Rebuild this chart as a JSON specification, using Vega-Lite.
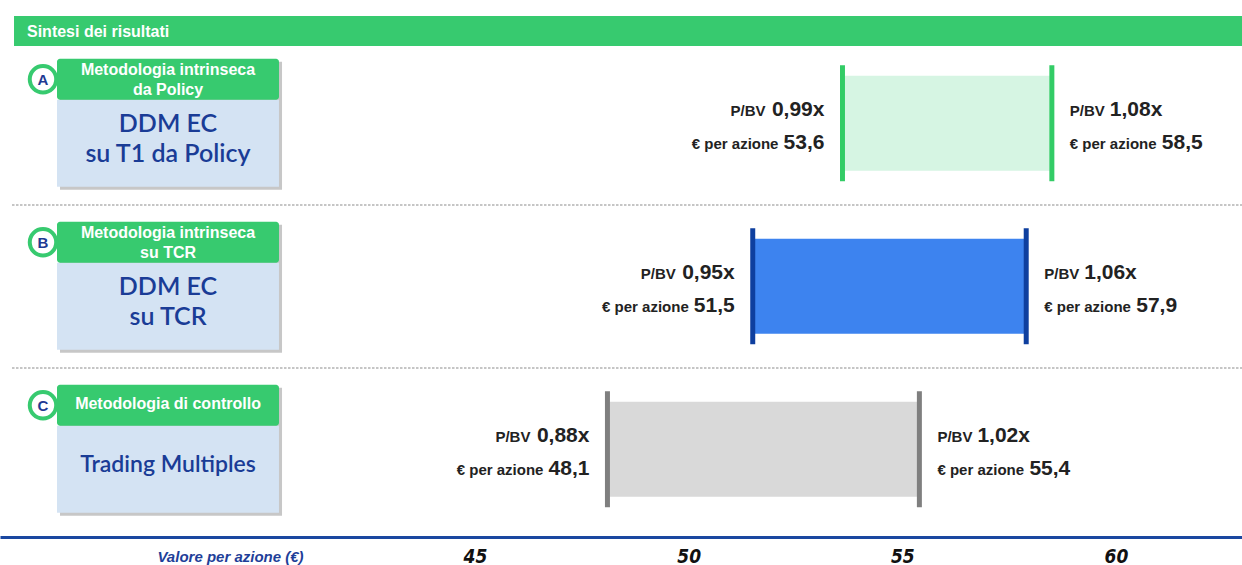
{
  "$schema": "https://vega.github.io/schema/vega-lite/v6.json",
  "width": 1242,
  "height": 565,
  "autosize": {"type": "none"},
  "padding": 0,
  "background": "white",
  "config": {"view": {"stroke": null}, "font": "Liberation Sans"},
  "data": {
    "values": [
      {"row": "A", "lo": 53.6, "hi": 58.5, "pbv_lo": 0.99, "pbv_hi": 1.08, "method": "Metodologia intrinseca\nda Policy", "model": "DDM EC\nsu T1 da Policy"},
      {"row": "B", "lo": 51.5, "hi": 57.9, "pbv_lo": 0.95, "pbv_hi": 1.06, "method": "Metodologia intrinseca\nsu TCR", "model": "DDM EC\nsu TCR"},
      {"row": "C", "lo": 48.1, "hi": 55.4, "pbv_lo": 0.88, "pbv_hi": 1.02, "method": "Metodologia di controllo", "model": "Trading Multiples"}
    ]
  },
  "transform": [
    {"calculate": "replace(format(datum.lo,'.1f'),'.',',')", "as": "lo_s"},
    {"calculate": "replace(format(datum.hi,'.1f'),'.',',')", "as": "hi_s"},
    {"calculate": "replace(format(datum.pbv_lo,'.2f'),'.',',') + 'x'", "as": "pbv_lo_s"},
    {"calculate": "replace(format(datum.pbv_hi,'.2f'),'.',',') + 'x'", "as": "pbv_hi_s"}
  ],
  "resolve": {"scale": {"color": "independent"}},
  "layer": [
    {
      "mark": {"type": "bar"},
      "encoding": {
        "x": {"field": "lo", "type": "quantitative", "scale": {"domain": [33.884, 62.95], "nice": false, "zero": false},
          "axis": {"values": [45, 50, 55, 60], "ticks": false, "grid": false, "domain": true, "domainColor": "#1a47a0", "domainWidth": 3, "offset": -28,
            "labelPadding": 10, "labelBaseline": "top", "labelFont": "Liberation Sans Narrow, DejaVu Sans Condensed, sans-serif", "labelFontSize": 19,
            "labelFontWeight": "bold", "labelFontStyle": "italic", "labelColor": "#111111", "labelFlush": false, "labelOverlap": false,
            "title": "Valore per azione (€)", "titleFont": "Liberation Sans", "titleFontSize": 15, "titleFontWeight": "bold", "titleFontStyle": "italic",
            "titleColor": "#1f3f99", "titleX": 230, "titleY": 12, "titleBaseline": "top", "titleAlign": "center", "titleAngle": 0}},
        "x2": {"field": "hi"},
        "y": {"field": "row", "type": "nominal", "scale": {"type": "band", "domain": ["A", "B", "C"], "paddingInner": 0.4172, "paddingOuter": 0.4417, "align": 0.526}, "axis": null},
        "color": {"field": "row", "type": "nominal", "scale": {"domain": ["A", "B", "C"], "range": ["#d6f5e3", "#3d83ef", "#d9d9d9"]}, "legend": null}
      }
    },
    {
      "transform": [{"filter": "datum.row === 'A'"}],
      "mark": {"type": "bar", "height": 30, "yOffset": -92.3, "color": "#37ca6f"},
      "encoding": {
        "x": {"datum": 34.212, "type": "quantitative"},
        "x2": {"datum": 62.95},
        "y": {"field": "row", "type": "nominal", "axis": null}
      }
    },
    {
      "transform": [{"filter": "datum.row === 'A'"}],
      "mark": {"type": "text", "text": "Sintesi dei risultati", "align": "left", "baseline": "middle", "yOffset": -91.5, "fontSize": 16, "fontWeight": "bold", "color": "white"},
      "encoding": {
        "x": {"datum": 34.516, "type": "quantitative"},
        "y": {"field": "row", "type": "nominal", "axis": null}
      }
    },
    {
      "transform": [{"filter": "datum.row !== 'A'"}],
      "mark": {"type": "rule", "yOffset": -81.3, "color": "#b3b3b3", "strokeWidth": 1.5, "strokeDash": [2.5, 1.5]},
      "encoding": {
        "x": {"datum": 34.165, "type": "quantitative"},
        "x2": {"datum": 62.95},
        "y": {"field": "row", "type": "nominal", "axis": null}
      }
    },
    {
      "mark": {"type": "bar", "height": 128, "yOffset": 2.5, "color": "#000000", "opacity": 0.22},
      "encoding": {
        "x": {"datum": 35.288, "type": "quantitative"},
        "x2": {"datum": 40.484},
        "y": {"field": "row", "type": "nominal", "axis": null}
      }
    },
    {
      "mark": {"type": "bar", "height": 87, "yOffset": 20, "color": "#d4e3f3"},
      "encoding": {
        "x": {"datum": 35.218, "type": "quantitative"},
        "x2": {"datum": 40.413},
        "y": {"field": "row", "type": "nominal", "axis": null}
      }
    },
    {
      "mark": {"type": "bar", "height": 41, "yOffset": -44, "color": "#37ca6f", "cornerRadius": 3},
      "encoding": {
        "x": {"datum": 35.218, "type": "quantitative"},
        "x2": {"datum": 40.413},
        "y": {"field": "row", "type": "nominal", "axis": null}
      }
    },
    {
      "mark": {"type": "point", "shape": "circle", "filled": false, "size": 700, "yOffset": -44, "fill": "white", "fillOpacity": 1, "stroke": "#37ca6f", "strokeWidth": 4, "opacity": 1},
      "encoding": {
        "x": {"datum": 34.89, "type": "quantitative"},
        "y": {"field": "row", "type": "nominal", "axis": null}
      }
    },
    {
      "mark": {"type": "text", "baseline": "middle", "align": "center", "yOffset": -43.5, "fontSize": 15, "fontWeight": "bold", "color": "#1f3a93"},
      "encoding": {
        "x": {"datum": 34.89, "type": "quantitative"},
        "y": {"field": "row", "type": "nominal", "axis": null},
        "text": {"field": "row"}
      }
    },
    {
      "transform": [{"filter": "datum.row !== 'C'"}],
      "mark": {"type": "text", "baseline": "middle", "align": "center", "yOffset": -53.5, "lineBreak": "\n", "lineHeight": 20, "fontSize": 16, "fontWeight": "bold", "color": "white"},
      "encoding": {
        "x": {"datum": 37.816, "type": "quantitative"},
        "y": {"field": "row", "type": "nominal", "axis": null},
        "text": {"field": "method"}
      }
    },
    {
      "transform": [{"filter": "datum.row === 'C'"}],
      "mark": {"type": "text", "baseline": "middle", "align": "center", "yOffset": -45, "fontSize": 16, "fontWeight": "bold", "color": "white"},
      "encoding": {
        "x": {"datum": 37.816, "type": "quantitative"},
        "y": {"field": "row", "type": "nominal", "axis": null},
        "text": {"field": "method"}
      }
    },
    {
      "transform": [{"filter": "datum.row !== 'C'"}],
      "mark": {"type": "text", "baseline": "middle", "align": "center", "yOffset": 0.5, "lineBreak": "\n", "lineHeight": 30, "fontSize": 25, "font": "Lato", "fontWeight": 600, "color": "#1a3c96"},
      "encoding": {
        "x": {"datum": 37.816, "type": "quantitative"},
        "y": {"field": "row", "type": "nominal", "axis": null},
        "text": {"field": "model"}
      }
    },
    {
      "transform": [{"filter": "datum.row === 'C'"}],
      "mark": {"type": "text", "baseline": "middle", "align": "center", "yOffset": 15.5, "fontSize": 23, "font": "Lato", "fontWeight": 600, "color": "#1a3c96"},
      "encoding": {
        "x": {"datum": 37.816, "type": "quantitative"},
        "y": {"field": "row", "type": "nominal", "axis": null},
        "text": {"field": "model"}
      }
    },
    {
      "mark": {"type": "tick", "size": 116, "thickness": 5, "opacity": 1},
      "encoding": {
        "x": {"field": "lo", "type": "quantitative"},
        "y": {"field": "row", "type": "nominal", "axis": null},
        "color": {"field": "row", "type": "nominal", "scale": {"domain": ["A", "B", "C"], "range": ["#33cc66", "#0e3f9f", "#7f7f7f"]}, "legend": null}
      }
    },
    {
      "mark": {"type": "tick", "size": 116, "thickness": 5, "opacity": 1},
      "encoding": {
        "x": {"field": "hi", "type": "quantitative"},
        "y": {"field": "row", "type": "nominal", "axis": null},
        "color": {"field": "row", "type": "nominal", "scale": {"domain": ["A", "B", "C"], "range": ["#33cc66", "#0e3f9f", "#7f7f7f"]}, "legend": null}
      }
    },
    {
      "mark": {"type": "text", "align": "right", "baseline": "middle", "dx": -18, "yOffset": -13.5, "fontSize": 21, "fontWeight": "bold", "color": "#222222"},
      "encoding": {
        "x": {"field": "lo", "type": "quantitative"},
        "y": {"field": "row", "type": "nominal", "axis": null},
        "text": {"field": "pbv_lo_s"}
      }
    },
    {
      "mark": {"type": "text", "align": "right", "baseline": "middle", "dx": -77, "yOffset": -12.5, "fontSize": 15, "fontWeight": "bold", "color": "#222222", "text": "P/BV"},
      "encoding": {
        "x": {"field": "lo", "type": "quantitative"},
        "y": {"field": "row", "type": "nominal", "axis": null}
      }
    },
    {
      "mark": {"type": "text", "align": "right", "baseline": "middle", "dx": -18, "yOffset": 20, "fontSize": 21, "fontWeight": "bold", "color": "#222222"},
      "encoding": {
        "x": {"field": "lo", "type": "quantitative"},
        "y": {"field": "row", "type": "nominal", "axis": null},
        "text": {"field": "lo_s"}
      }
    },
    {
      "mark": {"type": "text", "align": "right", "baseline": "middle", "dx": -64, "yOffset": 21, "fontSize": 15, "fontWeight": "bold", "color": "#222222", "text": "€ per azione"},
      "encoding": {
        "x": {"field": "lo", "type": "quantitative"},
        "y": {"field": "row", "type": "nominal", "axis": null}
      }
    },
    {
      "mark": {"type": "text", "align": "left", "baseline": "middle", "dx": 18, "yOffset": -12.5, "fontSize": 15, "fontWeight": "bold", "color": "#222222", "text": "P/BV"},
      "encoding": {
        "x": {"field": "hi", "type": "quantitative"},
        "y": {"field": "row", "type": "nominal", "axis": null}
      }
    },
    {
      "mark": {"type": "text", "align": "left", "baseline": "middle", "dx": 58, "yOffset": -13.5, "fontSize": 21, "fontWeight": "bold", "color": "#222222"},
      "encoding": {
        "x": {"field": "hi", "type": "quantitative"},
        "y": {"field": "row", "type": "nominal", "axis": null},
        "text": {"field": "pbv_hi_s"}
      }
    },
    {
      "mark": {"type": "text", "align": "left", "baseline": "middle", "dx": 18, "yOffset": 21, "fontSize": 15, "fontWeight": "bold", "color": "#222222", "text": "€ per azione"},
      "encoding": {
        "x": {"field": "hi", "type": "quantitative"},
        "y": {"field": "row", "type": "nominal", "axis": null}
      }
    },
    {
      "mark": {"type": "text", "align": "left", "baseline": "middle", "dx": 110, "yOffset": 20, "fontSize": 21, "fontWeight": "bold", "color": "#222222"},
      "encoding": {
        "x": {"field": "hi", "type": "quantitative"},
        "y": {"field": "row", "type": "nominal", "axis": null},
        "text": {"field": "hi_s"}
      }
    }
  ]
}
